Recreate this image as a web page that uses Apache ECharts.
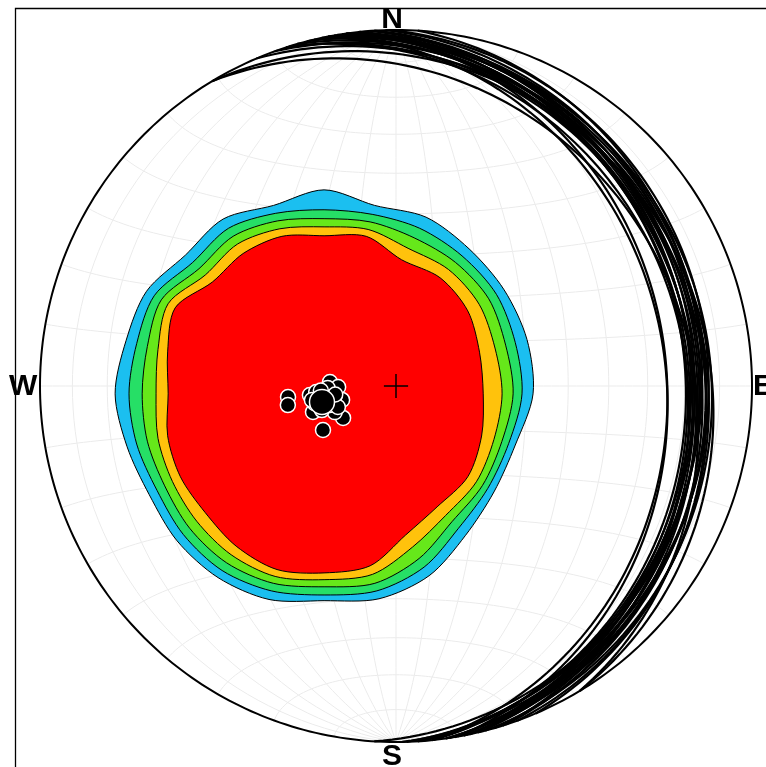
<!DOCTYPE html>
<html><head><meta charset="utf-8">
<script src="https://cdn.jsdelivr.net/npm/echarts/dist/echarts.min.js"></script>
<style>html,body{margin:0;padding:0;background:#fff}#c{width:766px;height:767px}</style>
</head><body><div id="c"></div>
<script>
// ---- data: poles to planes (trend, plunge in degrees) ----
const poleTrends  = [264.2,260.0,273.5,264.0,269.0,255.5,238.9,238.9,252.6,246.9,258.0,261.3,261.9,253.9,252.0,265.7,259.0,268.3,260.5,250.1,256.7,259.0,262.0,266.5];
const polePlunges = [ 65.1, 64.8, 74.9, 70.2, 76.8, 77.3, 75.9, 70.5, 70.1, 74.8, 71.0, 72.0, 73.9, 74.3, 72.2, 71.7, 75.6, 74.4, 70.5, 75.9, 72.1, 73.3, 76.0, 72.8];
const meanPole = [257.8, 72.7];
// ---- density contours: boundary radius (fraction of net radius) at azimuths around contour centre ----
const contourCenter = [-0.202, -0.022];
const contourAngles = [0,15,30,45,60,75,90,105,120,135,150,165,180,195,210,225,240,255,270,285,300,315,330,345];
const ringBlue   = [.573,.548,.573,.576,.584,.590,.587,.556,.551,.562,.590,.596,.581,.598,.596,.584,.567,.573,.587,.576,.576,.551,.567,.548];
const ringGreen  = [.517,.522,.537,.548,.559,.556,.556,.537,.531,.534,.562,.573,.565,.573,.573,.559,.542,.545,.548,.545,.551,.522,.537,.525];
const ringLime   = [.492,.500,.506,.522,.534,.528,.531,.517,.514,.508,.534,.551,.542,.551,.548,.534,.517,.514,.511,.514,.528,.497,.511,.503];
const ringOrange = [.469,.478,.472,.494,.503,.497,.500,.494,.494,.483,.497,.525,.522,.531,.522,.506,.492,.483,.472,.483,.506,.472,.486,.480];
const ringRed    = [.444,.458,.435,.461,.466,.452,.447,.458,.466,.449,.458,.500,.503,.511,.494,.472,.466,.455,.438,.455,.483,.444,.455,.458];
const directionLabels = ['N','E','S','W'];

const rings = [ringBlue, ringGreen, ringLime, ringOrange, ringRed];
const ringColors = ['#1bbff0','#26df66','#66e81a','#ffc20c','#ff0000'];
const D2R = Math.PI/180;

function eaProj(v){
  const h = Math.hypot(v[0], v[1]);
  const r = Math.sqrt(Math.max(0, 1 + v[2]));
  if (h < 1e-12) return [0, 0];
  return [r*v[0]/h, r*v[1]/h];
}
function poleVec(t, p){ t*=D2R; p*=D2R; return [Math.sin(t)*Math.cos(p), Math.cos(t)*Math.cos(p), -Math.sin(p)]; }
function greatCircle(trend, plunge){
  const T = trend*D2R, P = plunge*D2R;
  const s = [Math.sin(T+Math.PI/2), Math.cos(T+Math.PI/2), 0];
  const d = [-Math.sin(T)*Math.sin(P), -Math.cos(T)*Math.sin(P), -Math.cos(P)];
  const pts = [];
  for (let a=0; a<=180; a+=1.5){
    const c=Math.cos(a*D2R), sn=Math.sin(a*D2R);
    pts.push(eaProj([c*s[0]+sn*d[0], c*s[1]+sn*d[1], c*s[2]+sn*d[2]]));
  }
  return pts;
}
// net grid (Schmidt net, 10 degrees)
const netCurves = [];
for (let dip=10; dip<=90; dip+=10){
  for (const sg of (dip===90?[1]:[1,-1])){
    const d=[sg*Math.cos(dip*D2R),0,-Math.sin(dip*D2R)];
    const pts=[];
    for (let a=0;a<=180;a+=2){ const c=Math.cos(a*D2R), sn=Math.sin(a*D2R); pts.push(eaProj([sn*d[0], c+sn*d[1], sn*d[2]])); }
    netCurves.push(pts);
  }
}
for (let b=10; b<=170; b+=10){
  const pts=[];
  for (let f=0; f<=180; f+=2){
    const sb=Math.sin(b*D2R), cb=Math.cos(b*D2R);
    pts.push(eaProj([sb*Math.cos(f*D2R), cb, -sb*Math.sin(f*D2R)]));
  }
  netCurves.push(pts);
}
const primitive = [];
for (let a=0;a<=360;a+=1) primitive.push([Math.sin(a*D2R), Math.cos(a*D2R)]);
const gcCurves = poleTrends.map((t,i)=>greatCircle(t, polePlunges[i]));
const polePts = poleTrends.map((t,i)=>eaProj(poleVec(t, polePlunges[i])));
const meanPt = eaProj(poleVec(meanPole[0], meanPole[1]));

function curveSeries(curves, color, width, z){
  return {
    type:'custom', coordinateSystem:'cartesian2d', z:z, silent:true,
    data: curves.map((c,i)=>[0,0,i]),
    renderItem:function(params, api){
      const pts = curves[api.value(2)].map(p=>api.coord(p));
      return {type:'polyline', shape:{points:pts}, style:{stroke:color, lineWidth:width, fill:null}};
    }
  };
}

const chart = echarts.init(document.getElementById('c'), null, {renderer:'canvas'});
const lblFont = 'bold 30px "Liberation Sans", Arial, sans-serif';
chart.setOption({
  animation:false,
  grid:{left:40, top:30, width:712, height:712},
  xAxis:{type:'value', min:-1, max:1, show:false},
  yAxis:{type:'value', min:-1, max:1, show:false},
  graphic:[
    {type:'rect', silent:true, shape:{x:15.5, y:8.5, width:800, height:800}, style:{fill:'none', stroke:'#000', lineWidth:1.3}},
    {type:'text', silent:true, x:392, y:20, style:{text:directionLabels[0], font:lblFont, fill:'#000', align:'center', verticalAlign:'middle'}},
    {type:'text', silent:true, x:753, y:387, style:{text:directionLabels[1], font:lblFont, fill:'#000', align:'left', verticalAlign:'middle'}},
    {type:'text', silent:true, x:392, y:757, style:{text:directionLabels[2], font:lblFont, fill:'#000', align:'center', verticalAlign:'middle'}},
    {type:'text', silent:true, x:9, y:387, style:{text:directionLabels[3], font:lblFont, fill:'#000', align:'left', verticalAlign:'middle'}}
  ],
  series:[
    curveSeries(netCurves, '#ebebeb', 1, 1),
    {
      type:'custom', coordinateSystem:'cartesian2d', z:2, silent:true,
      data: rings.map((r,i)=>[contourCenter[0], contourCenter[1], i]),
      renderItem:function(params, api){
        const k = api.value(2), rad = rings[k];
        const pts = contourAngles.map((a,i)=>api.coord([contourCenter[0]+rad[i]*Math.sin(a*D2R), contourCenter[1]+rad[i]*Math.cos(a*D2R)]));
        return {type:'polygon', shape:{points:pts, smooth:0.3}, style:{fill:ringColors[k], stroke:'#000', lineWidth:1}};
      }
    },
    curveSeries(gcCurves, '#000', 2.2, 3),
    curveSeries([primitive], '#000', 2, 4),
    curveSeries([[[-0.034,0],[0.034,0]],[[0,-0.034],[0,0.034]]], '#000', 1.5, 6),
    {type:'scatter', z:5, silent:true, data:polePts, symbol:'circle', symbolSize:15,
     itemStyle:{color:'#000', borderColor:'#fff', borderWidth:1.5, opacity:1}},
    {type:'scatter', z:5, silent:true, data:[meanPt], symbol:'circle', symbolSize:25,
     itemStyle:{color:'#000', borderColor:'#fff', borderWidth:1.5, opacity:1}}
  ]
});
</script></body></html>
